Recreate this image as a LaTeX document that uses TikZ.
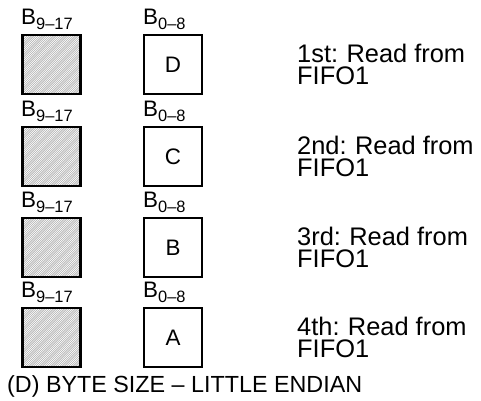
\documentclass[tikz,border=0pt]{standalone}
\usepackage{fontspec}
\setmainfont{Liberation Sans}
\begin{document}
\begin{tikzpicture}[x=1bp,y=-1bp,
  cell/.style={draw=black,line width=2.2bp,minimum width=58bp,minimum height=59bp,inner sep=0pt,
    font=\fontsize{22.5}{22.5}\selectfont},
  blab/.style={anchor=base west,inner sep=0pt,font=\fontsize{22.5}{22.5}\selectfont},
  rlab/.style={anchor=base west,inner sep=0pt,font=\fontsize{25.5}{25.5}\selectfont},
  captext/.style={anchor=base west,inner sep=0pt,font=\fontsize{23.4}{23.4}\selectfont}]
\useasboundingbox (0,0) rectangle (481,400);
\newcommand{\hatchbox}[2]{%
  \begin{scope}
    \clip (#1-29,#2-29.5) rectangle (#1+29,#2+29.5);
    \fill[white] (#1-29,#2-29.5) rectangle (#1+29,#2+29.5);
    \foreach \k in {-64,-61.8,...,64} {
      \draw[gray!65,line width=0.6bp] (#1+\k-32,#2+32) -- (#1+\k+32,#2-32);
    }
  \end{scope}}
\foreach \r/\t/\L/\ord in {1/35/D/1st,2/127/C/2nd,3/218/B/3rd,4/308/A/4th}{
  \hatchbox{51.5}{\t+29.5}
  \node[cell] (h\r) at (51.5,\t+29.5) {};
  \node[cell] (c\r) at (173,\t+29.5) {\L};
  \node[blab] (hl\r) at (21,\t-10.5) {B\raisebox{-4.5bp}{\fontsize{16.5}{16.5}\selectfont 9–17}};
  \node[blab] (cl\r) at (143,\t-10.5) {B\raisebox{-4.5bp}{\fontsize{16.5}{16.5}\selectfont 0–8}};
  \node[rlab] (ra\r) at (297,\t+27) {\ord:\kern-1bp{} Read from};
  \node[rlab] (rb\r) at (297,\t+49) {FIFO1};
}
\node[captext] (title) at (7,392) {(D) BYTE SIZE – LITTLE ENDIAN};
\end{tikzpicture}
\end{document}
